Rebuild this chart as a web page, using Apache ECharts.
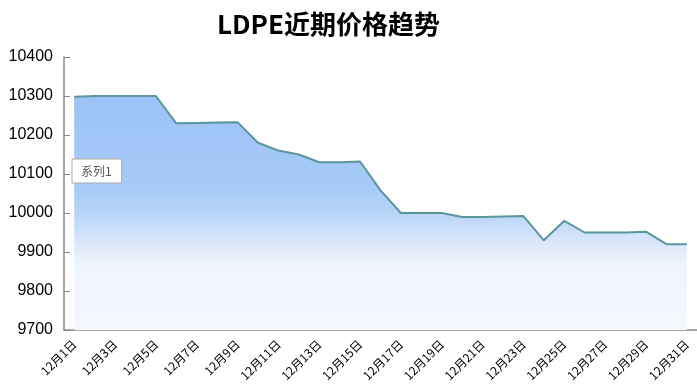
<!DOCTYPE html>
<html>
<head>
<meta charset="utf-8">
<script src="https://cdn.jsdelivr.net/npm/echarts@6/dist/echarts.min.js"></script>
<style>html,body{margin:0;padding:0;background:#fff}#c{width:697px;height:384px}</style>
</head>
<body>
<div id="c"></div>
<script>
var categories = ['12月1日','12月2日','12月3日','12月4日','12月5日','12月6日','12月7日','12月8日','12月9日','12月10日','12月11日','12月12日','12月13日','12月14日','12月15日','12月16日','12月17日','12月18日','12月19日','12月20日','12月21日','12月22日','12月23日','12月24日','12月25日','12月26日','12月27日','12月28日','12月29日','12月30日','12月31日'];
var series1 = [10298,10300,10300,10300,10300,10230,10231,10232,10233,10180,10160,10150,10130,10130,10132,10058,10000,10000,10000,9990,9990,9991,9992,9930,9980,9950,9950,9950,9952,9920,9920];
var yMin = 9700, yMax = 10400, yStep = 100;

var chart = echarts.init(document.getElementById('c'));
chart.setOption({
  animation: false,
  title: {
    text: 'LDPE近期价格趋势',
    left: 212, top: 6,
    textStyle: {fontFamily: 'Noto Sans CJK SC', fontWeight: 'bold', fontSize: 26, color: '#000'}
  },
  legend: {
    data: ['系列1'],
    left: 72, top: 159,
    orient: 'vertical',
    itemWidth: 0, itemHeight: 0,
    icon: 'rect',
    padding: [6, 10, 6, 4],
    backgroundColor: '#fff',
    borderColor: '#aaa', borderWidth: 1,
    textStyle: {fontFamily: 'Noto Sans CJK SC', fontSize: 12, color: '#555'}
  },
  grid: {left: 64, right: 0, top: 57, bottom: 54, containLabel: false, outerBoundsMode: 'none'},
  xAxis: {
    type: 'category',
    data: categories,
    boundaryGap: true,
    axisLine: {lineStyle: {color: '#888', width: 1.5}},
    axisTick: {inside: true, length: 4, interval: 1, lineStyle: {color: '#888'}},
    axisLabel: {interval: 1, rotate: 45, margin: 12, color: '#000', fontSize: 12, fontFamily: 'Noto Sans CJK SC'},
    splitLine: {show: false}
  },
  yAxis: {
    type: 'value',
    min: yMin, max: yMax, interval: yStep,
    axisLine: {show: true, lineStyle: {color: '#888', width: 1.5}},
    axisTick: {show: true, inside: true, length: 6, lineStyle: {color: '#888'}},
    axisLabel: {color: '#000', fontSize: 16, margin: 11, fontFamily: 'Liberation Sans', formatter: function (v) { return String(v); }},
    splitLine: {show: false}
  },
  series: [{
    name: '系列1',
    type: 'line',
    data: series1,
    symbol: 'none',
    lineStyle: {color: '#5a969c', width: 2},
    itemStyle: {color: '#5a969c'},
    areaStyle: {
      opacity: 1,
      color: new echarts.graphic.LinearGradient(0, 0, 0, 1, [
        {offset: 0, color: '#9cc2f7'},
        {offset: 0.4, color: '#a7cbf7'},
        {offset: 0.5, color: '#b8d4f8'},
        {offset: 0.62, color: '#d9e7fb'},
        {offset: 0.72, color: '#eff5fd'},
        {offset: 1, color: '#f4f8fe'}
      ])
    }
  }]
});
</script>
</body>
</html>
